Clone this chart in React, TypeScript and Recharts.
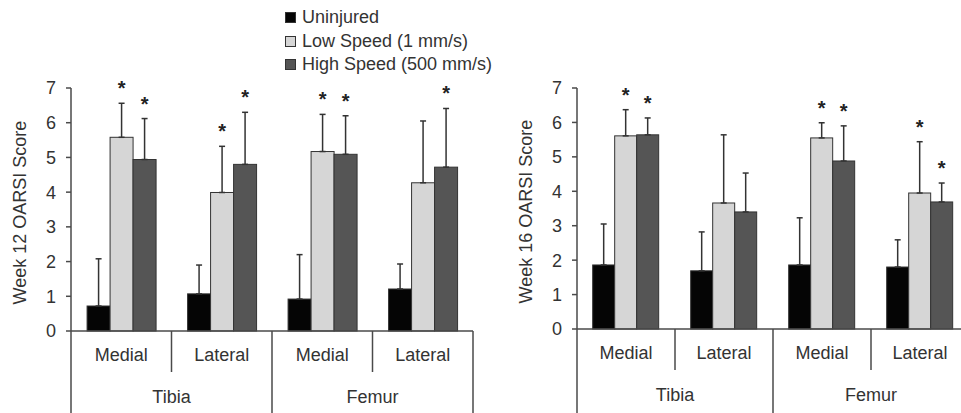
import React from 'react';
import { Bar, BarChart, ErrorBar, Label, Legend, XAxis, YAxis } from 'recharts';

// categories along the x axis
const subLabels = ['Medial', 'Lateral', 'Medial', 'Lateral'];
const groupLabels = ['Tibia', 'Tibia', 'Femur', 'Femur'];
const yTicks = [0, 1, 2, 3, 4, 5, 6, 7];

// Week 12 OARSI scores (mean, SD, significance)
const w12Uninjured = [0.72, 1.07, 0.92, 1.21];
const w12UninjuredSd = [1.36, 0.83, 1.28, 0.72];
const w12Low = [5.58, 3.99, 5.17, 4.27];
const w12LowSd = [0.98, 1.33, 1.07, 1.78];
const w12High = [4.94, 4.8, 5.09, 4.72];
const w12HighSd = [1.18, 1.5, 1.11, 1.69];
const w12LowStar = [true, true, true, false];
const w12HighStar = [true, true, true, true];

// Week 16 OARSI scores
const w16Uninjured = [1.86, 1.69, 1.86, 1.8];
const w16UninjuredSd = [1.19, 1.13, 1.37, 0.79];
const w16Low = [5.61, 3.66, 5.55, 3.95];
const w16LowSd = [0.76, 1.98, 0.44, 1.49];
const w16High = [5.64, 3.4, 4.88, 3.69];
const w16HighSd = [0.49, 1.13, 1.02, 0.55];
const w16LowStar = [true, false, true, true];
const w16HighStar = [true, false, true, true];

const SERIES = [
  { key: 'uninj', name: 'Uninjured', color: '#050505' },
  { key: 'low', name: 'Low Speed (1 mm/s)', color: '#d6d6d6' },
  { key: 'high', name: 'High Speed (500 mm/s)', color: '#555555' },
];

const FONT = '"Liberation Sans", Arial, sans-serif';
const TEXT = '#333';
const AXIS = '#4a4a4a';

function buildRows(
  uninj: number[], uninjSd: number[],
  low: number[], lowSd: number[],
  high: number[], highSd: number[],
  lowStar: boolean[], highStar: boolean[],
) {
  return subLabels.map((sub, i) => ({
    sub,
    group: groupLabels[i],
    uninj: uninj[i],
    uninjSd: uninjSd[i],
    uninjErr: [0, uninjSd[i]],
    uninjStar: false,
    low: low[i],
    lowSd: lowSd[i],
    lowErr: [0, lowSd[i]],
    lowStar: lowStar[i],
    high: high[i],
    highSd: highSd[i],
    highErr: [0, highSd[i]],
    highStar: highStar[i],
  }));
}

const week12 = buildRows(w12Uninjured, w12UninjuredSd, w12Low, w12LowSd, w12High, w12HighSd, w12LowStar, w12HighStar);
const week16 = buildRows(w16Uninjured, w16UninjuredSd, w16Low, w16LowSd, w16High, w16HighSd, w16LowStar, w16HighStar);

// bar rectangle plus the significance asterisk above its error bar
function makeBarShape(key: string) {
  return (props: any) => {
    const { x, y, width, height, fill, payload } = props;
    const value = payload[key];
    const perUnit = value > 0 ? height / value : 0;
    const errTop = y - payload[key + 'Sd'] * perUnit;
    return (
      <g>
        <rect x={x} y={y} width={width} height={height} fill={fill} stroke="#333" strokeWidth={1} />
        {payload[key + 'Star'] ? (
          <text
            x={x + width / 2}
            y={errTop - 8}
            textAnchor="middle"
            fontSize={20}
            fontWeight="bold"
            fontFamily={FONT}
            fill="#222"
          >
            *
          </text>
        ) : null}
      </g>
    );
  };
}

function CategoryTick(props: any) {
  const { x, y, payload, width } = props;
  const n = subLabels.length;
  const i = payload?.index ?? props.index ?? 0;
  const half = (width || 100 * n) / n / 2;
  const left = x - half;
  const right = x + half;
  const groupStart = i === 0 || groupLabels[i] !== groupLabels[i - 1];
  const groupEnd = i === n - 1 || groupLabels[i] !== groupLabels[i + 1];
  return (
    <g>
      <line x1={left} y1={y} x2={left} y2={y + (groupStart ? 95 : 41)} stroke={AXIS} strokeWidth={1.5} />
      {i === n - 1 ? (
        <line x1={right} y1={y} x2={right} y2={y + 95} stroke={AXIS} strokeWidth={1.5} />
      ) : null}
      <text x={x} y={y + 30} textAnchor="middle" fontSize={18} fontFamily={FONT} fill={TEXT}>
        {payload.value}
      </text>
      {groupEnd && !groupStart ? (
        <text x={left} y={y + 72} textAnchor="middle" fontSize={18} fontFamily={FONT} fill={TEXT}>
          {groupLabels[i]}
        </text>
      ) : null}
    </g>
  );
}

function LegendBox() {
  return (
    <div style={{ fontFamily: FONT, fontSize: 18, color: TEXT, lineHeight: '23.5px' }}>
      {SERIES.map((s) => (
        <div key={s.key} style={{ display: 'flex', alignItems: 'center', whiteSpace: 'nowrap' }}>
          <span
            style={{
              display: 'inline-block',
              width: 9,
              height: 9,
              background: s.color,
              border: '1px solid #333',
              marginRight: 6,
            }}
          />
          {s.name}
        </div>
      ))}
    </div>
  );
}

interface PanelProps {
  data: ReturnType<typeof buildRows>;
  title: string;
  width: number;
  margin: { top: number; right: number; bottom: number; left: number };
  xHeight: number;
  legend?: boolean;
}

function Panel({ data, title, width, margin, xHeight, legend }: PanelProps) {
  return (
    <BarChart width={width} height={413} data={data} margin={margin} barGap={0} barCategoryGap="16%">
      <XAxis
        dataKey="sub"
        height={xHeight}
        tickLine={false}
        tickSize={0}
        tickMargin={0}
        interval={0}
        axisLine={{ stroke: AXIS, strokeWidth: 1.5 }}
        tick={<CategoryTick />}
      />
      <YAxis
        width={40}
        domain={[0, 7]}
        ticks={yTicks}
        interval={0}
        tickSize={5}
        tickMargin={10}
        axisLine={{ stroke: AXIS, strokeWidth: 1.5 }}
        tickLine={{ stroke: AXIS, strokeWidth: 1.5 }}
        tick={{ fontSize: 18, fontFamily: FONT, fill: TEXT }}
      >
        <Label
          content={(p: any) => {
            const vb = p.viewBox || {};
            const cx = vb.x - 11;
            const cy = vb.y + vb.height / 2 + 3;
            return (
              <text
                x={cx}
                y={cy}
                transform={`rotate(-90 ${cx} ${cy})`}
                textAnchor="middle"
                dominantBaseline="central"
                fontSize={18}
                fontFamily={FONT}
                fill={TEXT}
              >
                {title}
              </text>
            );
          }}
        />
      </YAxis>
      {legend ? (
        <Legend
          layout="vertical"
          align="center"
          verticalAlign="middle"
          content={<LegendBox />}
          wrapperStyle={{ position: 'absolute', left: 285, top: 6, width: 240 }}
        />
      ) : null}
      {SERIES.map((s) => (
        <Bar
          key={s.key}
          dataKey={s.key}
          name={s.name}
          fill={s.color}
          isAnimationActive={false}
          shape={makeBarShape(s.key)}
        >
          <ErrorBar dataKey={s.key + 'Err'} width={3} stroke="#333" strokeWidth={1.5} direction="y" />
        </Bar>
      ))}
    </BarChart>
  );
}

export default function App() {
  return (
    <div
      style={{
        position: 'fixed',
        left: 0,
        top: 0,
        width: 961,
        height: 413,
        overflow: 'hidden',
        background: '#fff',
      }}
    >
      <div style={{ position: 'absolute', left: 0, top: 0 }}>
        <Panel
          data={week12}
          title="Week 12 OARSI Score"
          width={480}
          margin={{ top: 88, right: 7, bottom: 0, left: 31 }}
          xHeight={82}
          legend
        />
      </div>
      <div style={{ position: 'absolute', left: 490, top: 0 }}>
        <Panel
          data={week16}
          title="Week 16 OARSI Score"
          width={490}
          margin={{ top: 88, right: 11, bottom: 0, left: 47 }}
          xHeight={84}
        />
      </div>
    </div>
  );
}
